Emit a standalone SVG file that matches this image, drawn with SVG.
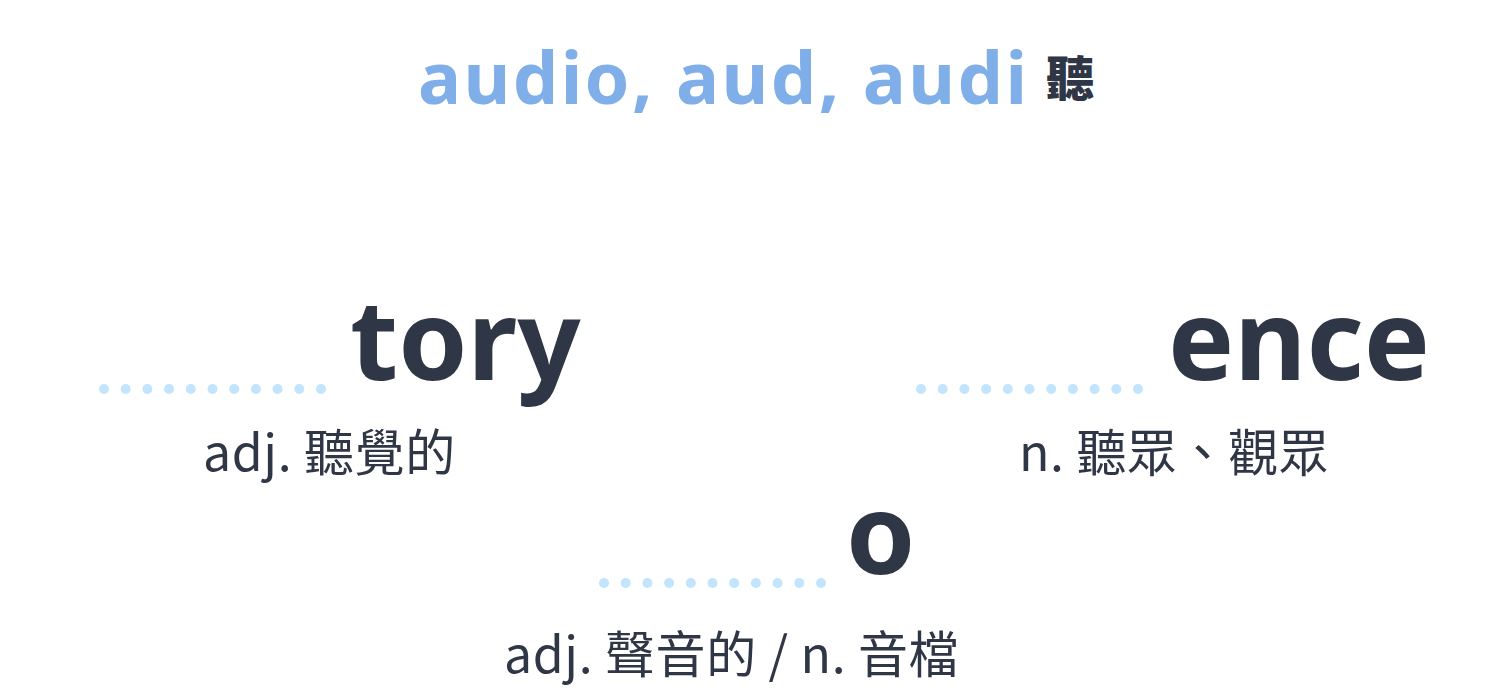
<svg xmlns="http://www.w3.org/2000/svg" width="1500" height="688" viewBox="0 0 1500 688">
<style>
.title{font-family:"Noto Sans","Noto Sans CJK TC",sans-serif;font-weight:700;fill:#7FAEE8;font-size:72px}
.han{font-family:"Noto Sans CJK TC",sans-serif;font-weight:900;fill:#2F3645;font-size:48px}
.part{font-family:"Noto Sans","Noto Sans CJK TC",sans-serif;font-weight:700;fill:#2F3645;font-size:111px}
.def{font-family:"Noto Sans CJK TC",sans-serif;fill:#2F3645;font-size:50px;letter-spacing:0.6px}
.dot{fill:#C2E4FD}
</style>
<rect width="1500" height="688" fill="#FFFFFF"/>
<defs>
<g id="dots">
<circle cx="0" cy="0" r="5" class="dot"/><circle cx="21.7" cy="0" r="5" class="dot"/><circle cx="43.4" cy="0" r="5" class="dot"/><circle cx="65.1" cy="0" r="5" class="dot"/><circle cx="86.8" cy="0" r="5" class="dot"/><circle cx="108.5" cy="0" r="5" class="dot"/><circle cx="130.2" cy="0" r="5" class="dot"/><circle cx="151.9" cy="0" r="5" class="dot"/><circle cx="173.6" cy="0" r="5" class="dot"/><circle cx="195.3" cy="0" r="5" class="dot"/><circle cx="217" cy="0" r="5" class="dot"/>
</g>
</defs>
<g id="root">
<text x="418" y="104" class="title" textLength="609" lengthAdjust="spacing">audio, aud, audi</text>
<text x="1046" y="96" class="han">聽</text>
</g>
<g id="connectors">
<use href="#dots" x="104" y="389"/>
<use href="#dots" x="921" y="389"/>
<use href="#dots" x="604" y="583"/>
</g>
<g id="node-tory">
<text x="350" y="380" class="part">tory</text>
<text x="203" y="471" class="def">adj. 聽覺的</text>
</g>
<g id="node-ence">
<text x="1168" y="380" class="part">ence</text>
<text x="1019" y="471" class="def">n. 聽眾、觀眾</text>
</g>
<g id="node-o">
<text x="846" y="574" class="part">o</text>
<text x="504" y="673" class="def">adj. 聲音的 / n. 音檔</text>
</g>
</svg>
